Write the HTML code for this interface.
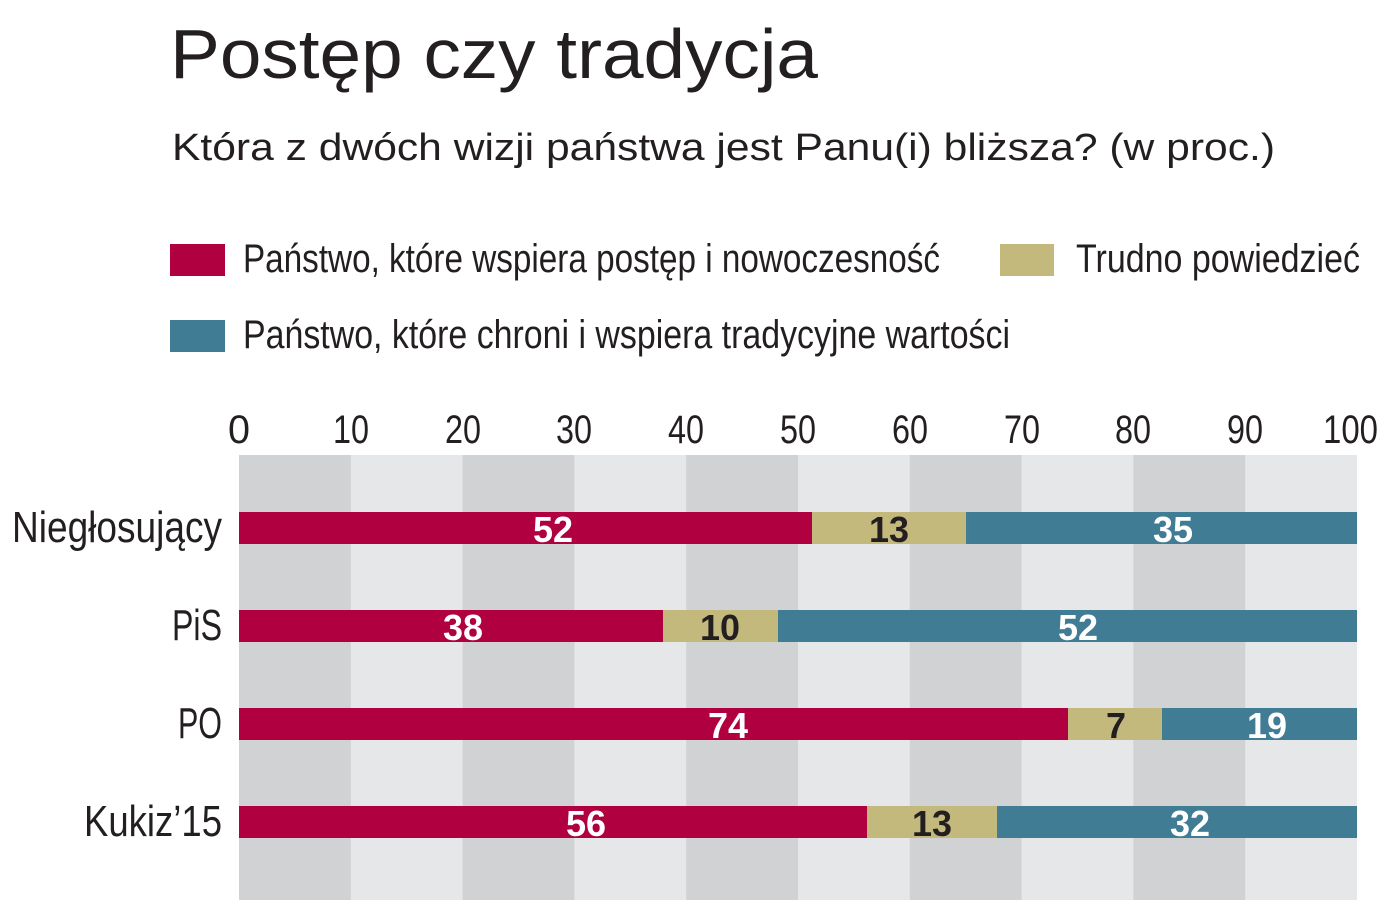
<!DOCTYPE html>
<html><head><meta charset="utf-8"><style>
html,body{margin:0;padding:0;background:#fff;}
svg{display:block;}
text{font-family:"Liberation Sans Narrow","Liberation Sans",sans-serif;fill:#231f20;}
.b{font-weight:bold;fill:#fff;font-size:36px;text-anchor:middle;}
.d{fill:#231f20;}
</style></head><body>
<svg width="1400" height="900" viewBox="0 0 1400 900">
<text x="170" y="78" font-size="70" textLength="648" lengthAdjust="spacingAndGlyphs" style="font-family:'Liberation Sans',sans-serif">Postęp czy tradycja</text>
<text x="172" y="160" font-size="38" textLength="1103" lengthAdjust="spacingAndGlyphs" style="font-family:'Liberation Sans',sans-serif">Która z dwóch wizji państwa jest Panu(i) bliższa? (w proc.)</text>
<rect x="170" y="244" width="55" height="32" fill="#b0003f"/>
<text x="243" y="272" font-size="40" textLength="697" lengthAdjust="spacingAndGlyphs">Państwo, które wspiera postęp i nowoczesność</text>
<rect x="1000" y="244" width="54" height="32" fill="#c4b97c"/>
<text x="1076" y="272" font-size="40" textLength="284" lengthAdjust="spacingAndGlyphs">Trudno powiedzieć</text>
<rect x="170" y="320" width="55" height="32" fill="#417c95"/>
<text x="243" y="348" font-size="40" textLength="767" lengthAdjust="spacingAndGlyphs">Państwo, które chroni i wspiera tradycyjne wartości</text>
<g>
<rect x="239" y="455" width="1118" height="445" fill="#e6e7e8"/>
<rect x="239" y="455" width="111.8" height="445" fill="#d1d2d4"/>
<rect x="462.6" y="455" width="111.8" height="445" fill="#d1d2d4"/>
<rect x="686.2" y="455" width="111.8" height="445" fill="#d1d2d4"/>
<rect x="909.8" y="455" width="111.8" height="445" fill="#d1d2d4"/>
<rect x="1133.4" y="455" width="111.8" height="445" fill="#d1d2d4"/>
</g>
<g font-size="40">
<text x="228" y="443" textLength="22" lengthAdjust="spacingAndGlyphs">0</text>
<text x="333" y="443" textLength="36" lengthAdjust="spacingAndGlyphs">10</text>
<text x="445" y="443" textLength="36" lengthAdjust="spacingAndGlyphs">20</text>
<text x="556" y="443" textLength="36" lengthAdjust="spacingAndGlyphs">30</text>
<text x="668" y="443" textLength="36" lengthAdjust="spacingAndGlyphs">40</text>
<text x="780" y="443" textLength="36" lengthAdjust="spacingAndGlyphs">50</text>
<text x="892" y="443" textLength="36" lengthAdjust="spacingAndGlyphs">60</text>
<text x="1004" y="443" textLength="36" lengthAdjust="spacingAndGlyphs">70</text>
<text x="1115" y="443" textLength="36" lengthAdjust="spacingAndGlyphs">80</text>
<text x="1227" y="443" textLength="36" lengthAdjust="spacingAndGlyphs">90</text>
<text x="1323" y="443" textLength="55" lengthAdjust="spacingAndGlyphs">100</text>
</g>
<g font-size="44">
<text x="12" y="542" textLength="210" lengthAdjust="spacingAndGlyphs">Niegłosujący</text>
<text x="172" y="640" textLength="50" lengthAdjust="spacingAndGlyphs">PiS</text>
<text x="178" y="738" textLength="44" lengthAdjust="spacingAndGlyphs">PO</text>
<text x="84" y="836" textLength="138" lengthAdjust="spacingAndGlyphs">Kukiz’15</text>
</g>
<rect x="239" y="512" width="573" height="32" fill="#b0003f"/>
<rect x="812" y="512" width="154" height="32" fill="#c4b97c"/>
<rect x="966" y="512" width="391" height="32" fill="#417c95"/>
<rect x="239" y="610" width="424" height="32" fill="#b0003f"/>
<rect x="663" y="610" width="115" height="32" fill="#c4b97c"/>
<rect x="778" y="610" width="579" height="32" fill="#417c95"/>
<rect x="239" y="708" width="829" height="32" fill="#b0003f"/>
<rect x="1068" y="708" width="94" height="32" fill="#c4b97c"/>
<rect x="1162" y="708" width="195" height="32" fill="#417c95"/>
<rect x="239" y="806" width="628" height="32" fill="#b0003f"/>
<rect x="867" y="806" width="130" height="32" fill="#c4b97c"/>
<rect x="997" y="806" width="360" height="32" fill="#417c95"/>
<text class="b" x="553" y="542">52</text><text class="b d" x="889" y="542">13</text><text class="b" x="1173" y="542">35</text>
<text class="b" x="463" y="640">38</text><text class="b d" x="720" y="640">10</text><text class="b" x="1078" y="640">52</text>
<text class="b" x="728" y="738">74</text><text class="b d" x="1116" y="738">7</text><text class="b" x="1267" y="738">19</text>
<text class="b" x="586" y="836">56</text><text class="b d" x="932" y="836">13</text><text class="b" x="1190" y="836">32</text>
</svg>
</body></html>
